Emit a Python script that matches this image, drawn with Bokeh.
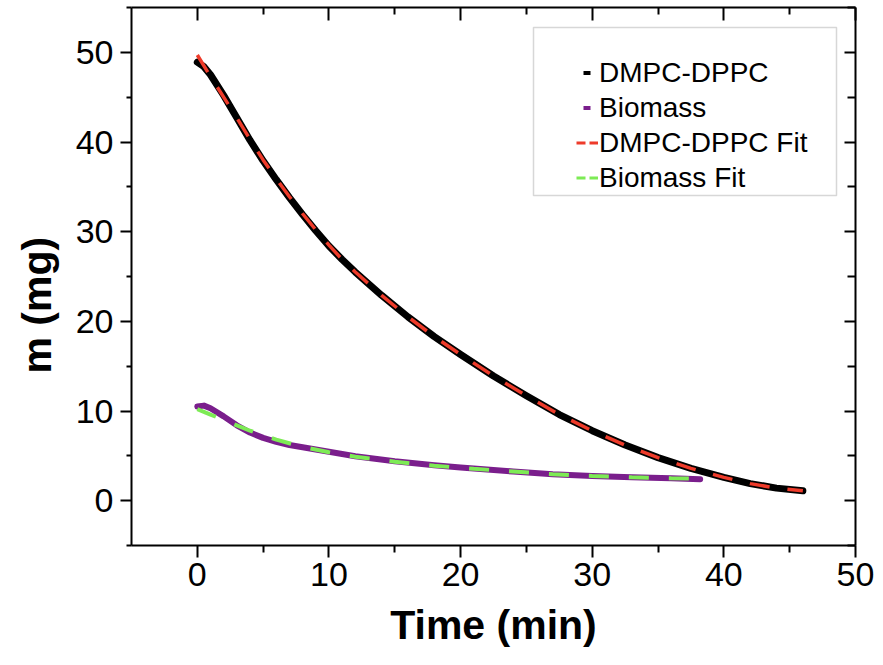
import numpy as np
from bokeh.plotting import figure
from bokeh.models import (Range1d, LinearAxis, FixedTicker, Legend, LegendItem,
                          Title, BoxAnnotation)
from bokeh.embed import file_html
from bokeh.resources import INLINE

# ---------------- data ----------------
dmpc_t = [0, 0.5, 1, 2, 3, 4, 5, 6, 7, 8, 9, 10, 11, 12, 14, 16, 18, 20, 22.5, 25,
          27.5, 30, 32.5, 35, 37.5, 40, 42, 44, 46]
dmpc_m = [48.9, 48.4, 47.5, 45.2, 42.7, 40.2, 37.9, 35.8, 33.8, 31.9, 30.1, 28.4, 26.9,
          25.5, 22.9, 20.5, 18.3, 16.3, 13.9, 11.7, 9.6, 7.8, 6.2, 4.8, 3.6, 2.6, 1.9,
          1.4, 1.1]

dmpc_fit_t = [0, 1, 2, 3, 4, 5, 6, 7, 8, 9, 10, 11, 12, 14, 16, 18, 20, 22.5, 25, 27.5,
              30, 32.5, 35, 37.5, 40, 42, 44, 46]
dmpc_fit_m = [49.7, 47.3, 45.0, 42.7, 40.3, 38.0, 35.9, 33.9, 32.0, 30.2, 28.5, 26.9,
              25.5, 22.9, 20.5, 18.3, 16.3, 13.9, 11.7, 9.6, 7.8, 6.2, 4.8, 3.6, 2.6,
              1.9, 1.4, 1.1]

bio_t = [0, 0.5, 1, 2, 3, 4, 5, 6, 7, 8, 10, 12, 15, 18, 20, 24, 27, 30, 33, 36, 38.2]
bio_m = [10.5, 10.6, 10.3, 9.4, 8.4, 7.6, 7.0, 6.55, 6.2, 5.95, 5.45, 4.95, 4.4, 3.95,
         3.7, 3.25, 2.95, 2.75, 2.6, 2.5, 2.4]

bio_fit_t = [0, 1, 2, 3, 4, 5, 6, 8, 10, 12, 15, 18, 21, 24, 27, 30, 33, 36, 38]
bio_fit_m = [10.2, 9.6, 9.0, 8.4, 7.8, 7.3, 6.8, 6.0, 5.4, 4.9, 4.35, 3.9, 3.55, 3.25,
             2.95, 2.75, 2.6, 2.5, 2.45]

x_major = [0, 10, 20, 30, 40, 50]
x_minor = [5, 15, 25, 35, 45]
y_major = [0, 10, 20, 30, 40, 50]
y_minor = [-5, 5, 15, 25, 35, 45, 55]

labels = ["DMPC-DPPC", "Biomass", "DMPC-DPPC Fit", "Biomass Fit"]
x_title = "Time (min)"
y_title = "m (mg)"

FONT = "Liberation Sans"

p = figure(width=878, height=660, output_backend="svg", toolbar_location=None,
           x_range=Range1d(-5, 50), y_range=Range1d(-5, 55),
           x_axis_location=None, y_axis_location=None,
           min_border_left=130, min_border_right=23, min_border_bottom=115,
           min_border_top=7)
p.outline_line_color = None
p.grid.visible = False
p.background_fill_color = "white"
p.border_fill_color = "white"


def style_axis(ax, ticks, minor, show_labels, tick_in, tick_out, minor_in, minor_out):
    ax.ticker = FixedTicker(ticks=ticks, minor_ticks=minor)
    ax.axis_line_color = "black"
    ax.axis_line_width = 2
    ax.major_tick_line_color = "black"
    ax.major_tick_line_width = 2
    ax.minor_tick_line_color = "black"
    ax.minor_tick_line_width = 2
    ax.major_tick_in = tick_in
    ax.major_tick_out = tick_out
    ax.minor_tick_in = minor_in
    ax.minor_tick_out = minor_out
    if show_labels:
        ax.major_label_text_font = FONT
        ax.major_label_text_font_size = "34px"
        ax.major_label_text_color = "black"
    else:
        ax.major_label_overrides = {t: "" for t in ticks}
        ax.major_label_standoff = 0


xb = LinearAxis()
style_axis(xb, x_major, x_minor, True, 0, 12, 0, 7)
xb.major_label_standoff = 5
xb.axis_label = x_title
xb.axis_label_text_font = FONT
xb.axis_label_text_font_style = "bold"
xb.axis_label_text_font_size = "41px"
xb.axis_label_text_color = "black"
xb.axis_label_standoff = 13
p.add_layout(xb, "below")

yl = LinearAxis()
style_axis(yl, y_major, y_minor, True, 0, 11, 0, 5)
yl.major_label_standoff = 7
p.add_layout(yl, "left")

xt = LinearAxis()
style_axis(xt, x_major, x_minor, False, 13, 0, 7, 0)
p.add_layout(xt, "above")

yr = LinearAxis()
style_axis(yr, y_major, y_minor, False, 11, 0, 8, 0)
p.add_layout(yr, "right")

ytitle = Title(text=y_title, align="left", offset=172, standoff=24,
               vertical_align="middle",
               text_font=FONT, text_font_style="bold", text_font_size="41px",
               text_color="black")
p.add_layout(ytitle, "left")

# ---------------- curves ----------------
r_dmpc = p.line(dmpc_t, dmpc_m, line_color="black", line_width=7,
                line_cap="round", line_join="round")
r_bio = p.line(bio_t, bio_m, line_color="#7A1E8C", line_width=6,
               line_cap="round", line_join="round")
r_dfit = p.line(dmpc_fit_t, dmpc_fit_m, line_color="#EE3B2A", line_width=3.5,
                line_dash="20 18")
r_bfit = p.line(bio_fit_t, bio_fit_m, line_color="#7DEB55", line_width=4,
                line_dash="20 20")

# legend proxies (short dash glyphs as in the original), drawn outside the view
off_x = [-100, -99]
off_y = [-100, -99]
g_dmpc = p.line(off_x, off_y, line_color="black", line_width=4, line_dash="0 7 7 40")
g_bio = p.line(off_x, off_y, line_color="#7A1E8C", line_width=4, line_dash="0 7 7 40")
g_dfit = p.line(off_x, off_y, line_color="#EE3B2A", line_width=3, line_dash="9 4 9 40")
g_bfit = p.line(off_x, off_y, line_color="#7DEB55", line_width=3, line_dash="9 4 9 40")

legend = Legend(items=[LegendItem(label=labels[0], renderers=[g_dmpc]),
                       LegendItem(label=labels[1], renderers=[g_bio]),
                       LegendItem(label=labels[2], renderers=[g_dfit]),
                       LegendItem(label=labels[3], renderers=[g_bfit])],
                location=(445, 350), padding=0, margin=0, spacing=0,
                glyph_width=22, glyph_height=35, label_height=35, label_standoff=1,
                label_text_font=FONT, label_text_font_size="28px",
                label_text_color="black", label_text_baseline="middle",
                border_line_color=None, background_fill_alpha=0)
p.add_layout(legend, "center")

box = BoxAnnotation(left=402, right=705, bottom=350, top=518,
                    left_units="screen", right_units="screen",
                    top_units="screen", bottom_units="screen",
                    fill_color=None, line_color="#7a7a7a", line_width=1.5)
p.add_layout(box)

open("out.html", "w").write(file_html(p, INLINE))
